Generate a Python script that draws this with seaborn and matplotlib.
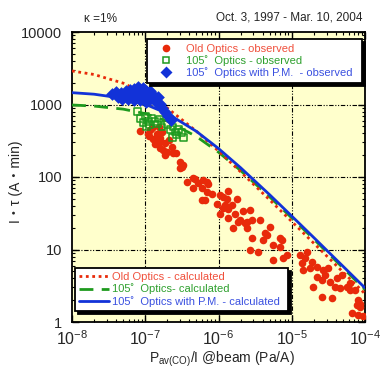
import matplotlib
matplotlib.use("Agg")
import matplotlib.pyplot as plt
from matplotlib.lines import Line2D
from matplotlib.ticker import LogLocator, LogFormatterMathtext, NullFormatter
import numpy as np
import pandas as pd
import seaborn as sns

# ---------------- data ----------------
# calculated curves
calc_P = [1e-8, 2e-8, 5e-8, 1e-7, 2e-7, 5e-7, 1e-6, 2e-6, 5e-6, 1e-5, 2e-5, 5e-5, 1e-4]
old_calc = [2900, 2593, 1969, 1404, 893, 427, 228, 118, 48.3, 24.3, 12.2, 4.89, 2.45]
new_calc = [985, 951, 863, 748, 590, 362, 220, 123, 53.1, 27.3, 13.9, 5.58, 2.79]
pm_calc = [1456, 1387, 1216, 1008, 751, 426, 247, 134.5, 56.8, 28.9, 14.6, 5.88, 2.95]

# observed: Old Optics (log10 values)
old_logP = [-7.07, -6.96, -6.94, -6.91, -6.81, -6.77, -6.89, -6.84, -6.80, -6.95, -6.87, -6.80,
            -6.84, -6.73, -6.68, -6.63, -6.80, -6.76, -6.70, -6.62, -6.58, -6.73, -6.53, -6.48,
            -6.53, -6.50,
            -6.43, -6.35, -6.32, -6.28, -6.21, -6.16, -6.14, -6.23, -6.35, -6.16, -6.09, -6.23,
            -6.18, -5.94, -5.87, -5.98, -5.75, -5.88, -6.02, -5.91, -5.82, -5.94, -5.87, -5.98,
            -5.87, -5.77, -5.67, -5.71, -5.61, -5.61, -5.80, -5.57, -5.73, -5.54, -5.64,
            -5.43, -5.30, -5.37, -5.39, -5.34, -5.54, -5.26, -5.16, -5.13, -5.16, -5.57, -5.46,
            -5.26, -5.12, -5.06, -4.89, -4.79, -4.82, -4.86, -4.72, -4.75, -4.85, -4.66, -4.57,
            -4.50, -4.66, -4.55, -4.48, -4.59, -4.38, -4.31, -4.41, -4.34, -4.25, -4.20, -4.14,
            -4.20, -4.71, -4.59, -4.45, -4.11, -4.07, -4.10, -4.18, -4.10, -4.03, -4.07]
old_logIt = [2.63, 2.59, 2.65, 2.68, 2.69, 2.62, 2.52, 2.59, 2.54, 2.57, 2.46, 2.50,
             2.47, 2.47, 2.51, 2.41, 2.40, 2.37, 2.34, 2.33, 2.33, 2.30, 2.21, 2.17,
             2.12, 2.14,
             1.93, 1.99, 1.97, 1.92, 1.96, 1.93, 1.90, 1.85, 1.85, 1.79, 1.77, 1.68,
             1.68, 1.72, 1.81, 1.75, 1.70, 1.70, 1.63, 1.61, 1.61, 1.57, 1.56, 1.49,
             1.43, 1.49, 1.53, 1.41, 1.38, 1.30, 1.30, 1.54, 1.38, 1.41, 1.37,
             1.41, 1.31, 1.23, 1.13, 1.20, 1.16, 1.06, 1.16, 1.13, 1.03, 0.99, 0.97,
             0.86, 0.88, 0.92, 0.92, 0.97, 0.88, 0.81, 0.83, 0.74, 0.72, 0.76, 0.72,
             0.74, 0.62, 0.65, 0.55, 0.58, 0.61, 0.65, 0.48, 0.47, 0.48, 0.54, 0.44,
             0.44, 0.48, 0.34, 0.33, 0.23, 0.21, 0.30, 0.12, 0.10, 0.08, 0.25]

# observed: 105 deg Optics
new_logP = [-7.11, -7.00, -7.03, -6.96, -6.98, -6.91, -6.87, -6.80, -6.83, -6.77, -6.70,
            -6.66, -6.62, -6.59, -6.55, -6.50, -6.63, -6.57, -6.48, -6.94, -7.07]
new_logIt = [2.90, 2.83, 2.75, 2.76, 2.70, 2.81, 2.76, 2.80, 2.73, 2.69, 2.72,
             2.65, 2.69, 2.62, 2.65, 2.61, 2.55, 2.58, 2.55, 2.72, 2.81]

# observed: 105 deg Optics with P.M.
pm_logP = [-7.45, -7.40, -7.37, -7.33, -7.29, -7.26, -7.24, -7.21, -7.18, -7.15, -7.13, -7.10,
           -7.07, -7.04, -7.02, -6.99, -6.96, -6.94, -6.91, -6.88, -6.85, -6.83, -6.80, -6.77,
           -6.73, -6.69, -6.65, -7.24, -7.15, -7.07, -6.99, -7.32, -7.10, -7.03, -6.94]
pm_logIt = [3.14, 3.17, 3.10, 3.16, 3.12, 3.19, 3.13, 3.20, 3.14, 3.21, 3.17, 3.12,
            3.20, 3.16, 3.10, 3.19, 3.13, 3.08, 3.14, 3.09, 3.03, 3.10, 3.01, 2.95,
            2.90, 2.84, 2.79, 3.08, 3.06, 3.06, 3.03, 3.08, 3.24, 3.23, 3.19]

labels_obs = ["Old Optics - observed", "105\u02da  Optics - observed",
              "105\u02da  Optics with P.M.  - observed"]
labels_calc = ["Old Optics - calculated", "105\u02da  Optics- calculated",
               "105\u02da  Optics with P.M. - calculated"]

RED = "#E82A0A"
GREEN = "#1E9A1E"
BLUE = "#1232D8"
RED_T = "#F0503C"
GREEN_T = "#2EA02E"
BLUE_T = "#3A50E0"

# ---------------- style ----------------
sns.set_theme(style="ticks")
plt.rcParams["font.family"] = ["Liberation Sans", "DejaVu Sans"]
plt.rcParams["mathtext.fontset"] = "custom"
plt.rcParams["mathtext.rm"] = "Liberation Sans"
plt.rcParams["mathtext.it"] = "Liberation Sans:italic"

fig = plt.figure(figsize=(3.8, 3.68), dpi=100)
ax = fig.add_axes([72 / 380, 1 - 322 / 368, 293 / 380, 290 / 368])
ax.set_facecolor("#FFFFCC")
ax.set_xscale("log")
ax.set_yscale("log")

old_df = pd.DataFrame({"P": 10 ** np.array(old_logP), "It": 10 ** np.array(old_logIt)})
new_df = pd.DataFrame({"P": 10 ** np.array(new_logP), "It": 10 ** np.array(new_logIt)})
pm_df = pd.DataFrame({"P": 10 ** np.array(pm_logP), "It": 10 ** np.array(pm_logIt)})
calc_df = pd.DataFrame({"P": calc_P, "old": old_calc, "new": new_calc, "pm": pm_calc})

sns.scatterplot(data=old_df, x="P", y="It", ax=ax, color=RED, marker="o", s=30,
                linewidth=0, zorder=3, legend=False)
sns.lineplot(data=calc_df, x="P", y="new", ax=ax, color=GREEN, lw=2,
             linestyle=(0, (5, 3)), zorder=4, legend=False)
sns.lineplot(data=calc_df, x="P", y="old", ax=ax, color=RED, lw=2,
             linestyle=(0, (1, 1.3)), zorder=5, legend=False)
sns.lineplot(data=calc_df, x="P", y="pm", ax=ax, color=BLUE, lw=2,
             zorder=6, legend=False)
sns.scatterplot(data=new_df, x="P", y="It", ax=ax, marker="s", s=24,
                facecolor="none", edgecolor=GREEN, linewidth=1.1, zorder=7, legend=False)
sns.scatterplot(data=pm_df, x="P", y="It", ax=ax, color=BLUE, marker="D", s=42,
                linewidth=0, zorder=8, legend=False)

ax.set_xlim(1e-8, 1e-4)
ax.set_ylim(1, 1e4)

# grid
for v in [1e-7, 1e-6, 1e-5]:
    ax.axvline(v, color="black", lw=0.8, linestyle=(0, (4, 1.5, 1, 1.5, 1, 1.5)), zorder=1)
for v in [10, 100, 1000]:
    ax.axhline(v, color="black", lw=0.8, linestyle=(0, (4, 1.5, 1, 1.5, 1, 1.5)), zorder=1)

for sp in ax.spines.values():
    sp.set_visible(True)
    sp.set_color("black")
    sp.set_linewidth(1.3)

ax.xaxis.set_major_locator(LogLocator(base=10, numticks=10))
ax.xaxis.set_minor_locator(LogLocator(base=10, subs=np.arange(2, 10), numticks=20))
ax.yaxis.set_major_locator(LogLocator(base=10, numticks=10))
ax.yaxis.set_minor_locator(LogLocator(base=10, subs=np.arange(2, 10), numticks=20))
ax.xaxis.set_major_formatter(LogFormatterMathtext())
ax.xaxis.set_minor_formatter(NullFormatter())
ax.yaxis.set_major_formatter(plt.FuncFormatter(lambda v, p: f"{int(round(v))}"))
ax.yaxis.set_minor_formatter(NullFormatter())
ax.tick_params(which="both", direction="in", top=True, right=True, color="black")
ax.tick_params(which="major", length=5, width=1)
ax.tick_params(which="minor", length=2.5, width=0.8)
ax.tick_params(axis="x", which="major", labelsize=11.5, pad=5)
ax.tick_params(axis="y", which="major", labelsize=10.5, pad=7)

ax.set_xlabel("P$_{\\mathrm{av(CO)}}$/I @beam (Pa/A)", fontsize=10)
ax.xaxis.set_label_coords((222 - 72) / 293, (322 - 350) / 290)
ax.set_ylabel("I\u30fb\u03c4 (A\u30fbmin)", fontsize=10,
              family=["Liberation Sans", "Noto Sans CJK JP", "DejaVu Sans"])
ax.yaxis.set_label_coords((23 - 72) / 293, (322 - 182) / 290)

fig.text(84 / 380, 1 - 19 / 368, "\u03ba =1%", fontsize=8.5, va="center", ha="left")
fig.text(362 / 380, 1 - 18 / 368, "Oct. 3, 1997 - Mar. 10, 2004", fontsize=8.5,
         va="center", ha="right")

# legends
shadow = {"color": "black", "alpha": 1}
h_obs = [Line2D([], [], ls="none", marker="o", ms=5.5, color=RED, mec="none"),
         Line2D([], [], ls="none", marker="s", ms=4.5, mfc="none", mec=GREEN, mew=1.1),
         Line2D([], [], ls="none", marker="D", ms=6.5, color=BLUE, mec="none")]
leg1 = ax.legend(h_obs, labels_obs, loc="upper left",
                 bbox_to_anchor=(75 / 293, 0.3, 215 / 293, 0.976 - 0.3),
                 mode="expand", borderaxespad=0, fontsize=8, frameon=True,
                 fancybox=False, shadow=shadow, handlelength=2.6, handletextpad=0.5,
                 labelspacing=0.1, borderpad=0.45,
                 labelcolor=[RED_T, GREEN_T, BLUE_T])
leg1.get_frame().set_edgecolor("black")
leg1.get_frame().set_linewidth(1.3)
leg1.get_frame().set_facecolor("white")
leg1.set_zorder(20)
ax.add_artist(leg1)

h_calc = [Line2D([], [], color=RED, lw=2, ls=(0, (1, 1.3))),
          Line2D([], [], color=GREEN, lw=2, ls=(0, (5, 3))),
          Line2D([], [], color=BLUE, lw=2)]
leg2 = ax.legend(h_calc, labels_calc, loc="upper left",
                 bbox_to_anchor=(3 / 293, 0.0, 213 / 293, (322 - 268) / 290),
                 mode="expand", borderaxespad=0, fontsize=8, frameon=True,
                 fancybox=False, shadow=shadow, handlelength=2.7, handletextpad=0.3,
                 labelspacing=0.15, borderpad=0.35,
                 labelcolor=[RED_T, GREEN_T, BLUE_T])
leg2.get_frame().set_edgecolor("black")
leg2.get_frame().set_linewidth(1.3)
leg2.get_frame().set_facecolor("white")
leg2.set_zorder(20)

fig.savefig("out.png", dpi=100)
